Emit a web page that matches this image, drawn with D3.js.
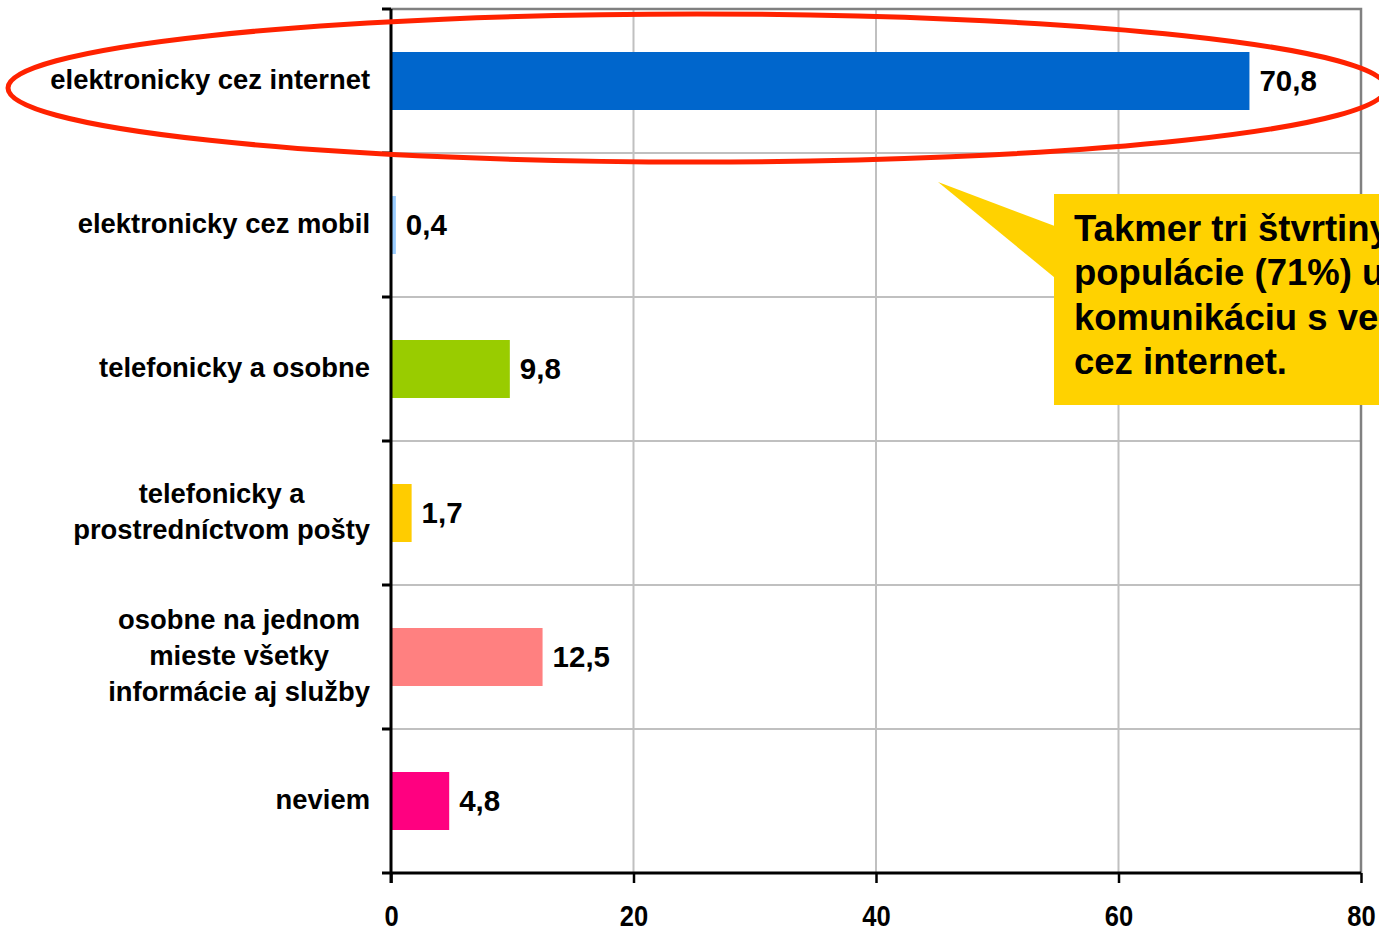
<!DOCTYPE html>
<html>
<head>
<meta charset="utf-8">
<script src="https://cdn.jsdelivr.net/npm/d3@7"></script>
<style>
  html, body { margin: 0; padding: 0; background: #fff; overflow: hidden; }
  svg { display: block; }
</style>
</head>
<body>
<div class="chart-section"></div>
<script>
// data
const categories = [
  ["elektronicky cez internet"],
  ["elektronicky cez mobil"],
  ["telefonicky a osobne"],
  ["telefonicky a", "prostredníctvom pošty"],
  ["osobne na jednom", "mieste všetky", "informácie aj služby"],
  ["neviem"],
];
const values = [70.8, 0.4, 9.8, 1.7, 12.5, 4.8];
const barColors = ["#0066cc", "#99ccff", "#99cc00", "#ffcc00", "#ff8080", "#ff0080"];
const xTicks = [0, 20, 40, 60, 80];
const calloutLines = [
  "Takmer tri štvrtiny",
  "populácie (71%) uprednostňuje",
  "komunikáciu s verejnou správou",
  "cez internet.",
];

const width = 1379;
const height = 930;
const margin = { top: 9, left: 391, right: 18, bottom: 57 };

const svg = d3
  .select(".chart-section")
  .append("svg")
  .attr("width", width)
  .attr("height", height)
  .attr("font-family", "'Liberation Sans', Arial, sans-serif")
  .attr("font-weight", "bold");

const x = d3.scaleLinear().domain([0, 80]).range([margin.left, width - margin.right]);
const rowEdges = d3.range(categories.length + 1).map(
  (i) => margin.top + (i * (height - margin.bottom - margin.top)) / categories.length
);
const rowMid = (i) => (rowEdges[i] + rowEdges[i + 1]) / 2;

// grid
svg.append("g")
  .selectAll("line")
  .data(xTicks.slice(1, -1))
  .join("line")
  .attr("x1", (d) => x(d)).attr("x2", (d) => x(d))
  .attr("y1", margin.top).attr("y2", height - margin.bottom)
  .attr("stroke", "#c0c0c0").attr("stroke-width", 2);

svg.append("g")
  .selectAll("line")
  .data(rowEdges.slice(1, -1))
  .join("line")
  .attr("x1", margin.left).attr("x2", x(80))
  .attr("y1", (d) => d).attr("y2", (d) => d)
  .attr("stroke", "#c0c0c0").attr("stroke-width", 2);

// plot frame (top + right)
svg.append("path")
  .attr("d", `M${margin.left},${margin.top}H${x(80)}V${height - margin.bottom}`)
  .attr("fill", "none")
  .attr("stroke", "#808080")
  .attr("stroke-width", 2.5);

// bars
const barH = 58;
svg.append("g")
  .selectAll("rect")
  .data(values)
  .join("rect")
  .attr("x", x(0))
  .attr("y", (d, i) => rowMid(i) - barH / 2)
  .attr("width", (d) => x(d) - x(0))
  .attr("height", barH)
  .attr("fill", (d, i) => barColors[i]);

// value labels
svg.append("g")
  .selectAll("text")
  .data(values)
  .join("text")
  .attr("x", (d) => x(d) + 10)
  .attr("y", (d, i) => rowMid(i))
  .attr("dy", "0.34em")
  .attr("font-size", 29.5)
  .attr("fill", "#000")
  .text((d) => d.toFixed(1).replace(".", ","));

// axes
const yAxisG = svg.append("g");
yAxisG.append("line")
  .attr("x1", margin.left).attr("x2", margin.left)
  .attr("y1", margin.top).attr("y2", height - margin.bottom + 10)
  .attr("stroke", "#000").attr("stroke-width", 3);
yAxisG.selectAll(".tick")
  .data(rowEdges.slice(0, -1))
  .join("line")
  .attr("x1", margin.left - 9).attr("x2", margin.left)
  .attr("y1", (d) => d).attr("y2", (d) => d)
  .attr("stroke", "#000").attr("stroke-width", 3);

const xAxis = d3.axisBottom(x).tickValues(xTicks).tickSize(10).tickPadding(22);
const xAxisG = svg.append("g")
  .attr("transform", `translate(0,${height - margin.bottom})`)
  .call(xAxis);
xAxisG.select(".domain").remove();
xAxisG.append("line")
  .attr("x1", margin.left - 9).attr("x2", x(80))
  .attr("stroke", "#000").attr("stroke-width", 3);
xAxisG.selectAll(".tick line").attr("stroke", "#000").attr("stroke-width", 2.5);
xAxisG.selectAll(".tick text")
  .attr("font-family", "'Liberation Sans', Arial, sans-serif")
  .attr("font-weight", "bold")
  .attr("font-size", 29)
  .attr("transform", "scale(0.88,1)")
  .attr("fill", "#000");

// category labels
const labelRight = 370;
const labelG = svg.append("g").attr("font-size", 27.4).attr("fill", "#000");
categories.forEach((lines, i) => {
  const lh = 36;
  const t = labelG.append("text").attr("text-anchor", "middle");
  const spans = lines.map((line, j) =>
    t.append("tspan")
      .attr("x", 0)
      .attr("y", rowMid(i) + (j - (lines.length - 1) / 2) * lh)
      .attr("dy", "0.3em")
      .text(line)
  );
  const w = d3.max(spans, (s) => s.node().getComputedTextLength());
  spans.forEach((s) => s.attr("x", labelRight - w / 2));
});

// red ellipse highlight
svg.append("ellipse")
  .attr("cx", 697).attr("cy", 88)
  .attr("rx", 689).attr("ry", 74)
  .attr("fill", "none")
  .attr("stroke", "#ff2200")
  .attr("stroke-width", 5);

// callout
const callout = svg.append("g");
callout.append("path")
  .attr("d", "M938,182L1060,228L1060,282Z")
  .attr("fill", "#ffd200");
callout.append("rect")
  .attr("x", 1054).attr("y", 194)
  .attr("width", 420).attr("height", 211)
  .attr("fill", "#ffd200");
callout.append("text")
  .attr("font-size", 36.5)
  .attr("fill", "#000")
  .selectAll("tspan")
  .data(calloutLines)
  .join("tspan")
  .attr("x", 1074)
  .attr("y", (d, i) => 241 + i * 44.3)
  .text((d) => d);
</script>
</body>
</html>
